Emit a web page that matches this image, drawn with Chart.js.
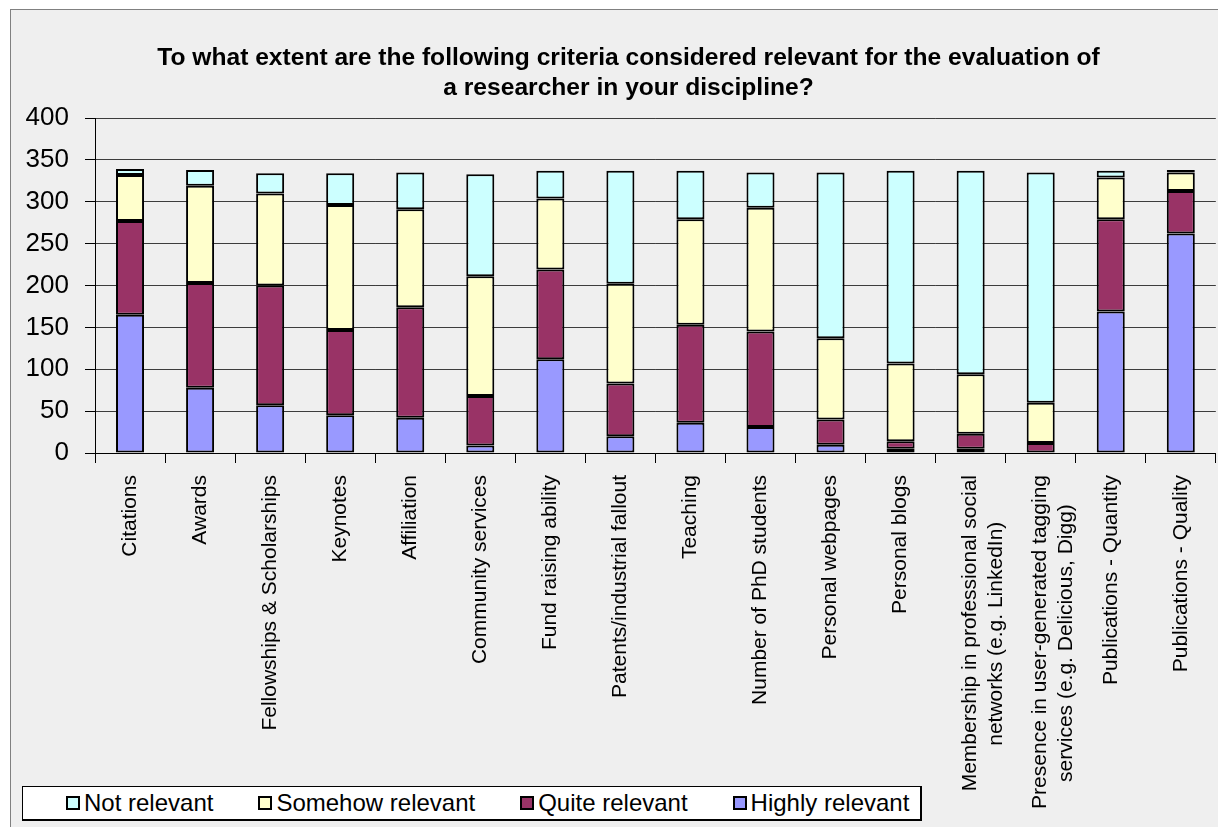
<!DOCTYPE html>
<html>
<head>
<meta charset="utf-8">
<script src="https://cdn.jsdelivr.net/npm/chart.js@4/dist/chart.umd.min.js"></script>
<style>
  html, body { margin: 0; padding: 0; background: #fff; }
  #frame {
    position: absolute; left: 10px; top: 9px;
    width: 1207px; height: 817px;
    background: #efefef;
    border-left: 1px solid #808080;
    border-top: 1px solid #808080;
  }
  #frame canvas { position: absolute; left: 0; top: 0; }
  #legend {
    position: absolute; left: 11px; top: 776px;
    width: 900px; height: 35px;
    background: #fff;
    border: 1px solid #000;
    border-right-width: 2px; border-bottom-width: 2px;
    display: flex; align-items: center;
    padding-left: 43px; box-sizing: border-box;
    font-family: "Liberation Sans", Arial, sans-serif;
    font-size: 24px; color: #000;
    white-space: nowrap;
  }
  #legend .item { display: flex; align-items: center; flex: none; margin-right: 45px; }
  #legend .swatch {
    width: 10px; height: 10px; border: 2px solid #000;
    margin-right: 4px;
  }
</style>
</head>
<body>
<div id="frame">
  <canvas id="chart"></canvas>
  <div id="legend"></div>
</div>
<script>
const criteria = [
  'Citations',
  'Awards',
  'Fellowships & Scholarships',
  'Keynotes',
  'Affiliation',
  'Community services',
  'Fund raising ability',
  'Patents/industrial fallout',
  'Teaching',
  'Number of PhD students',
  'Personal webpages',
  'Personal blogs',
  ['Membership in professional social', 'networks (e.g. LinkedIn)'],
  ['Presence in user-generated tagging', 'services (e.g. Delicious, Digg)'],
  'Publications - Quantity',
  'Publications - Quality'
];

const highlyRelevant = [165, 78, 57, 45, 42, 9, 112, 20, 36, 31, 10, 5, 5, 0, 169, 262];
const quiteRelevant = [112, 125, 143, 102, 132, 59, 107, 63, 117, 114, 30, 9, 18, 12, 110, 51];
const somehowRelevant = [55, 116, 110, 149, 117, 143, 85, 119, 126, 148, 97, 93, 71, 48, 50, 22];
const notRelevant = [7, 19, 24, 38, 44, 122, 33, 135, 58, 42, 198, 230, 243, 275, 8, 3];

const yTicks = [0, 50, 100, 150, 200, 250, 300, 350, 400];

const FONT = '"Liberation Sans", Arial, sans-serif';

// wrapped labels are drawn right-aligned when rotated; pad the shorter
// lines with trailing spaces so each block reads centred
const measureCtx = document.createElement('canvas').getContext('2d');
function centreLines(label) {
  if (!Array.isArray(label)) return label;
  measureCtx.font = '21px ' + FONT;
  const widths = label.map(l => measureCtx.measureText(l).width);
  const max = Math.max(...widths);
  const space = measureCtx.measureText(' ').width;
  return label.map((l, i) => l + ' '.repeat(Math.round((max - widths[i]) / 2 / space)));
}

const series = [
  { label: 'Highly relevant', data: highlyRelevant, color: '#9999ff' },
  { label: 'Quite relevant', data: quiteRelevant, color: '#993366' },
  { label: 'Somehow relevant', data: somehowRelevant, color: '#ffffcc' },
  { label: 'Not relevant', data: notRelevant, color: '#ccffff' }
];

// nudge the title block so it sits a little right of the canvas centre
const titleShift = {
  id: 'titleShift',
  afterLayout(chart) {
    if (chart.titleBlock) chart.titleBlock.left += 28;
  }
};

const chart = new Chart(document.getElementById('chart'), {
  type: 'bar',
  data: {
    labels: criteria,
    datasets: series.map(s => ({
      label: s.label,
      data: s.data,
      backgroundColor: s.color,
      borderColor: '#000',
      borderWidth: 2,
      borderSkipped: false,
      barPercentage: 0.4,
      categoryPercentage: 1
    }))
  },
  options: {
    responsive: true,
    maintainAspectRatio: false,
    animation: false,
    layout: { padding: 0 },
    scales: {
      x: {
        stacked: true,
        afterFit: scale => { scale.height = 374; },
        grid: {
          offset: true,
          drawOnChartArea: false,
          tickLength: 10,
          color: '#000'
        },
        border: { color: '#000', width: 1 },
        ticks: {
          minRotation: 90,
          maxRotation: 90,
          autoSkip: false,
          padding: 12,
          color: '#000',
          font: { family: FONT, size: 21 },
          callback: function (value) {
            return centreLines(this.getLabelForValue(value));
          }
        }
      },
      y: {
        stacked: true,
        min: yTicks[0],
        max: yTicks[yTicks.length - 1],
        afterFit: scale => { scale.width = 84; },
        afterBuildTicks: scale => { scale.ticks = yTicks.map(v => ({ value: v })); },
        grid: {
          color: '#3c3c3c',
          lineWidth: 1,
          tickLength: 10,
          tickColor: '#000'
        },
        border: { color: '#000', width: 1 },
        ticks: {
          padding: 16,
          color: '#000',
          font: { family: FONT, size: 26 }
        }
      }
    },
    plugins: {
      legend: { display: false },
      tooltip: { enabled: false },
      title: {
        display: true,
        text: [
          'To what extent are the following criteria considered relevant for the evaluation of',
          'a researcher in your discipline?'
        ],
        color: '#000',
        font: { family: FONT, size: 24.6, weight: 'bold', lineHeight: 1.22 },
        padding: { top: 33, bottom: 15 }
      }
    }
  },
  plugins: [titleShift]
});

// legend lists the series top-down, matching the stack order
const legendEl = document.getElementById('legend');
chart.data.datasets.slice().reverse().forEach(ds => {
  const item = document.createElement('div');
  item.className = 'item';
  const sw = document.createElement('span');
  sw.className = 'swatch';
  sw.style.background = ds.backgroundColor;
  item.appendChild(sw);
  item.appendChild(document.createTextNode(ds.label));
  legendEl.appendChild(item);
});
</script>
</body>
</html>
